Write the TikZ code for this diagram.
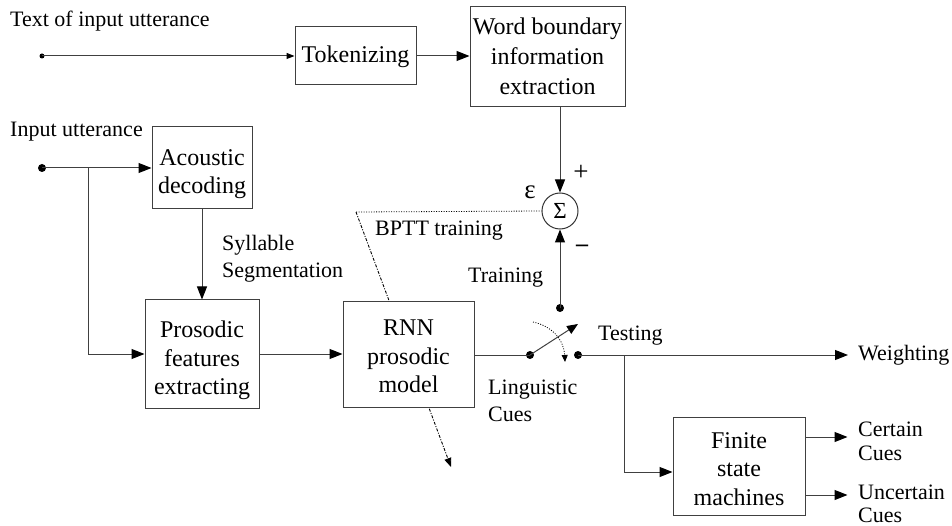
\documentclass[tikz,border=0pt]{standalone}
\usepackage{fontspec}
\setmainfont{Liberation Serif}
\usetikzlibrary{arrows.meta}
\begin{document}
\begin{tikzpicture}[x=1pt,y=-1pt,
  box/.style={draw=black!75, fill=white, line width=1pt, inner sep=0pt},
  btext/.style={inner sep=0pt, align=center, font=\fontsize{24}{28.5}\selectfont},
  lbl/.style={inner sep=0pt, font=\fontsize{22}{27}\selectfont},
  wire/.style={draw=black!75, line width=1pt},
  arr/.style={wire, -{Triangle[length=13pt,width=10pt,color=black]}},
  smallarr/.style={wire, -{Triangle[length=8pt,width=6pt,color=black]}},
  dot/.style={circle, fill=black, inner sep=0pt, minimum size=8pt},
  dotline/.style={draw=black, line width=0.8pt, dash pattern=on 1pt off 1.5pt},
  dashdotline/.style={draw=black, line width=0.9pt, dash pattern=on 3pt off 1.5pt on 1pt off 1.5pt},
]
\useasboundingbox (0,0) rectangle (952,526);

% BPTT feedback line (passes behind the RNN box)
\coordinate (bp) at (356,212);
\coordinate (bpe) at (451,467);
\draw[dashdotline, -{Triangle[length=9pt,width=7pt,color=black]}] (bp) -- (bpe);

% boxes
\node[box, minimum width=121pt, minimum height=58pt] (tok) at (355.5,56) {};
\node[btext, anchor=base] (tok-t) at (355.5,63) {Tokenizing};
\node[box, minimum width=155pt, minimum height=100pt] (wb) at (547.5,57) {};
\node[btext, anchor=north, font=\fontsize{24}{30}\selectfont] (wb-t) at (547.5,18) {Word boundary\\information\\extraction};
\node[box, minimum width=100pt, minimum height=82pt] (ac) at (202,168) {};
\node[btext, anchor=north] (ac-t) at (202,149) {Acoustic\\decoding};
\node[box, minimum width=114pt, minimum height=108pt] (pf) at (202,354) {};
\node[btext, anchor=north] (pf-t) at (202,321) {Prosodic\\features\\extracting};
\node[box, minimum width=131pt, minimum height=105pt] (rnn) at (408.5,354.5) {};
\node[btext, anchor=north] (rnn-t) at (408.5,320) {RNN\\prosodic\\model};
\node[box, minimum width=132pt, minimum height=98pt] (fsm) at (739,466) {};
\node[btext, anchor=north] (fsm-t) at (739,432) {Finite\\state\\machines};
\node[circle, draw=black!80, line width=1pt, minimum size=36pt, inner sep=0pt, font=\fontsize{23}{23}\selectfont] (sum) at (560,211) {Σ};

% dots
\node[dot, minimum size=5pt] (d1) at (42,56) {};
\node[dot] (d2) at (42,168) {};
\node[dot] (s1) at (530,355) {};
\node[dot] (s2) at (578,355) {};
\node[dot] (s3) at (560,308) {};

% connectors
\draw[smallarr] (d1.center) -- (tok.west);
\draw[arr] (tok.east) -- (tok.east -| wb.west);
\draw[arr] (sum |- wb.south) -- (sum.north);
\draw[arr] (d2.center) -- (ac.west);
\coordinate (br1) at (88,168);
\draw[arr] (br1) |- (pf.west);
\draw[arr] (ac.south) -- (pf.north);
\draw[arr] (pf.east) -- (rnn.west |- pf.east);
\draw[wire] (rnn.east |- s1) -- (s1.center);
\coordinate (sw) at (578,324);
\draw[wire, -{Triangle[length=11pt,width=9pt,color=black]}] (s1.center) -- (sw);
\draw[arr] (s3.center) -- (sum.south);
\coordinate (wtip) at (848,355);
\draw[arr] (s2.center) -- (wtip);
\coordinate (br2) at (624,355);
\draw[arr] (br2) |- ([yshift=-6pt]fsm.west);
\draw[arr] ([yshift=29pt]fsm.east) -- ++(42,0);
\draw[arr] ([yshift=-29pt]fsm.east) -- ++(42,0);

% dotted lines
\draw[dotline] (bp) -- (sum.west);
\coordinate (ca) at (533,322);
\coordinate (cb) at (565,362);
\draw[dotline, -{Triangle[length=7pt,width=6pt,color=black]}] (ca) .. controls (552,326) and (564,340) .. (cb);

% labels
\node[lbl, anchor=base west] (t1) at (10,27) {Text of input utterance};
\node[lbl, anchor=base west] (t2) at (10,137) {Input utterance};
\node[lbl, anchor=north west, align=left] (syl) at (222,235) {Syllable\\Segmentation};
\node[lbl, anchor=base west] (bptt) at (375,236) {BPTT training};
\node[lbl, anchor=base west] (trn) at (468,283) {Training};
\node[lbl, anchor=base west] (tst) at (598,340) {Testing};
\node[lbl, anchor=north west, align=left] (lc) at (488,380) {Linguistic\\Cues};
\node[lbl, anchor=base west] (wt) at (858,360) {Weighting};
\node[lbl, anchor=north west, align=left, font=\fontsize{22}{24}\selectfont] (cc) at (858,422) {Certain\\Cues};
\node[lbl, anchor=north west, align=left, font=\fontsize{22}{23}\selectfont] (uc) at (858,485) {Uncertain\\Cues};
\node[lbl, font=\fontsize{27}{27}\selectfont] (eps) at (530,192) {ε};
\node[lbl, font=\fontsize{27}{27}\selectfont] (plus) at (581,173) {+};
\node[lbl, font=\fontsize{24}{24}\selectfont\bfseries] (minus) at (582,248) {–};
\end{tikzpicture}
\end{document}
